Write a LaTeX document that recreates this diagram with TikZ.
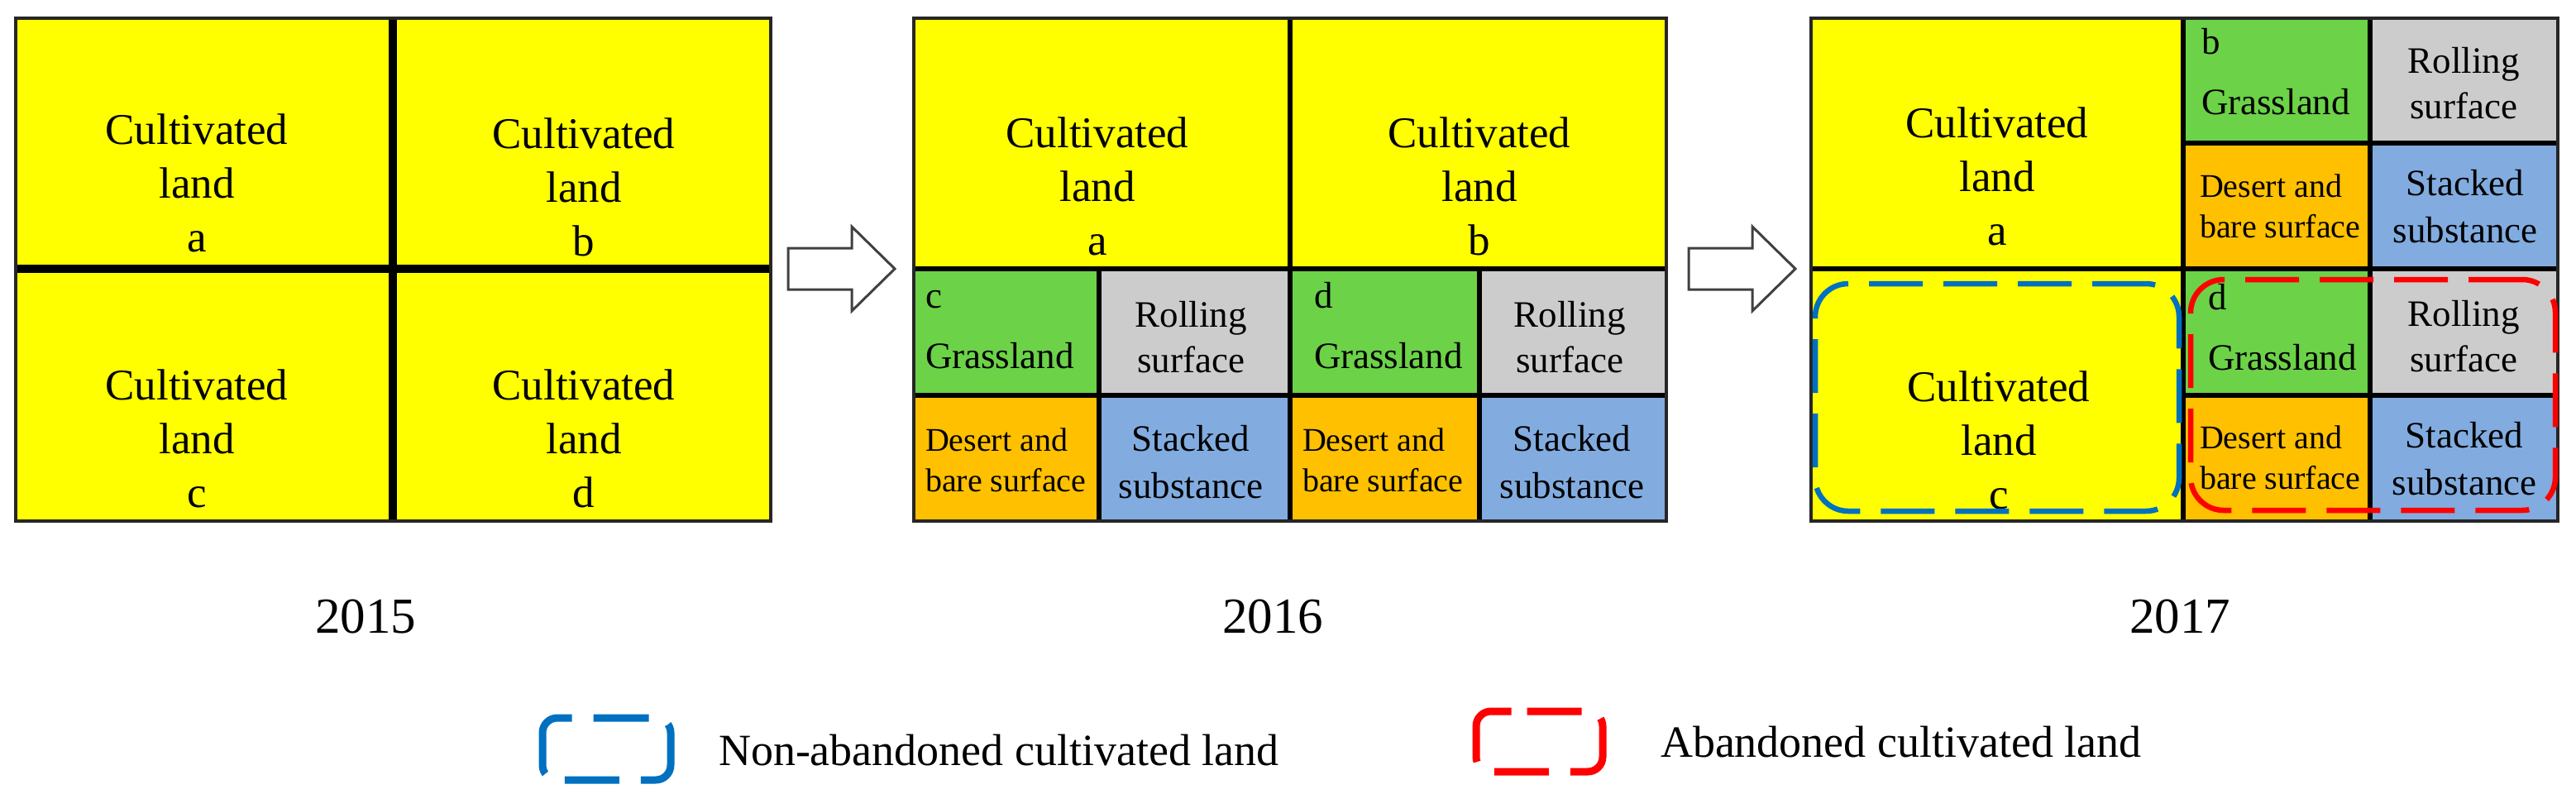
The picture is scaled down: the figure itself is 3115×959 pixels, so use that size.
\documentclass[tikz,border=0pt]{standalone}
\usepackage{fontspec}
\setmainfont{Liberation Serif}
\usetikzlibrary{fit}
\definecolor{cyel}{RGB}{255,255,0}
\definecolor{cgrn}{RGB}{108,210,72}
\definecolor{cgry}{RGB}{204,204,204}
\definecolor{corg}{RGB}{255,192,0}
\definecolor{cblu}{RGB}{130,172,224}
\definecolor{dblu}{RGB}{0,112,192}
\definecolor{dred}{RGB}{255,0,0}
\newcommand\fsCult{\fontsize{53}{65}\selectfont}
\newcommand\fsCell{\fontsize{45}{55}\selectfont}
\newcommand\fsGrass{\fontsize{45}{73}\selectfont}
\newcommand\fsDes{\fontsize{40}{49}\selectfont}
\newcommand\fsStack{\fontsize{45}{57}\selectfont}
\newcommand\fsYear{\fontsize{61}{70}\selectfont}
\newcommand\fsLeg{\fontsize{54}{60}\selectfont}
\tikzset{
  cellbox/.style={inner sep=0pt, outer sep=0pt, draw=none},
  divA/.style={line width=10pt, black},
  divB/.style={line width=6pt, black},
  outerbox/.style={line width=4pt, draw=black!85},
  lbl/.style={inner sep=0pt, outer sep=0pt, align=center, anchor=base},
  lbll/.style={inner sep=0pt, outer sep=0pt, align=left, anchor=base west},
  arrowshape/.style={draw=black!75, fill=white, line width=3pt, line join=miter},
  bigdash/.style={inner sep=0pt, line width=6.5pt, rounded corners=40pt, dash pattern=on 65pt off 25pt},
  legicon/.style={line width=9pt, rounded corners=18pt, dash pattern=on 66pt off 26pt on 96pt off 26pt}
}
\begin{document}
\begin{tikzpicture}[x=1pt,y=-1pt]
\useasboundingbox (0,0) rectangle (3115,959);
% ---------- Panel 2015 ----------
\node[cellbox, fill=cyel, fit={(19,22)(475,325)}] (p1a) {};
\node[cellbox, fill=cyel, fit={(475,22)(932,325)}] (p1b) {};
\node[cellbox, fill=cyel, fit={(19,325)(475,630)}] (p1c) {};
\node[cellbox, fill=cyel, fit={(475,325)(932,630)}] (p1d) {};
\draw[divA] (p1a.north east) -- (p1c.south east);
\draw[divA] (p1a.south west) -- (p1b.south east);
\draw[outerbox] (p1a.north west) rectangle (p1d.south east);
\node[lbl, font=\fsCult] (t1a) at (238,304) {Cultivated\\land\\a};
\node[lbl, font=\fsCult] (t1b) at (706,309) {Cultivated\\land\\b};
\node[lbl, font=\fsCult] (t1c) at (238,613) {Cultivated\\land\\c};
\node[lbl, font=\fsCult] (t1d) at (706,613) {Cultivated\\land\\d};
% ---------- Panel 2016 ----------
\node[cellbox, fill=cyel, fit={(1105,22)(1560,325)}] (p2a) {};
\node[cellbox, fill=cyel, fit={(1560,22)(2015,325)}] (p2b) {};
\node[cellbox, fill=cgrn, fit={(1105,325)(1329,478)}] (p2cg) {};
\node[cellbox, fill=cgry, fit={(1329,325)(1560,478)}] (p2cr) {};
\node[cellbox, fill=corg, fit={(1105,478)(1329,630)}] (p2cd) {};
\node[cellbox, fill=cblu, fit={(1329,478)(1560,630)}] (p2cs) {};
\node[cellbox, fill=cgrn, fit={(1560,325)(1789,478)}] (p2dg) {};
\node[cellbox, fill=cgry, fit={(1789,325)(2015,478)}] (p2dr) {};
\node[cellbox, fill=corg, fit={(1560,478)(1789,630)}] (p2dd) {};
\node[cellbox, fill=cblu, fit={(1789,478)(2015,630)}] (p2ds) {};
\draw[divB] (p2cg.north east) -- (p2cd.south east);
\draw[divB] (p2dg.north east) -- (p2dd.south east);
\draw[divB] (p2cg.south west) -- (p2dr.south east);
\draw[divB] (p2a.south west) -- (p2b.south east);
\draw[divB] (p2a.north east) -- (p2dd.south west);
\draw[outerbox] (p2a.north west) rectangle (p2ds.south east);
\node[lbl, font=\fsCult] (t2a) at (1327,308) {Cultivated\\land\\a};
\node[lbl, font=\fsCult] (t2b) at (1789,308) {Cultivated\\land\\b};
\node[lbll, font=\fsGrass] (t2cg) at (1119,445) {c\\Grassland};
\node[lbl, font=\fsCell] (t2cr) at (1440,450) {Rolling\\surface};
\node[lbll, font=\fsDes] (t2cd) at (1119,594) {Desert and\\bare surface};
\node[lbl, font=\fsStack] (t2cs) at (1440,602) {Stacked\\substance};
\node[lbll, font=\fsGrass] (t2dg) at (1589,445) {d\\Grassland};
\node[lbl, font=\fsCell] (t2dr) at (1898,450) {Rolling\\surface};
\node[lbll, font=\fsDes] (t2dd) at (1575,594) {Desert and\\bare surface};
\node[lbl, font=\fsStack] (t2ds) at (1901,602) {Stacked\\substance};
% ---------- Panel 2017 ----------
\node[cellbox, fill=cyel, fit={(2190,22)(2640,325)}] (p3a) {};
\node[cellbox, fill=cyel, fit={(2190,325)(2640,630)}] (p3c) {};
\node[cellbox, fill=cgrn, fit={(2640,22)(2866,173)}] (p3bg) {};
\node[cellbox, fill=cgry, fit={(2866,22)(3093,173)}] (p3br) {};
\node[cellbox, fill=corg, fit={(2640,173)(2866,325)}] (p3bd) {};
\node[cellbox, fill=cblu, fit={(2866,173)(3093,325)}] (p3bs) {};
\node[cellbox, fill=cgrn, fit={(2640,325)(2866,478)}] (p3dg) {};
\node[cellbox, fill=cgry, fit={(2866,325)(3093,478)}] (p3dr) {};
\node[cellbox, fill=corg, fit={(2640,478)(2866,630)}] (p3dd) {};
\node[cellbox, fill=cblu, fit={(2866,478)(3093,630)}] (p3ds) {};
\draw[divB] (p3bg.north east) -- (p3dd.south east);
\draw[divB] (p3bg.south west) -- (p3br.south east);
\draw[divB] (p3dg.south west) -- (p3dr.south east);
\draw[divB] (p3a.south west) -- (p3bs.south east);
\draw[divB] (p3a.north east) -- (p3c.south east);
\draw[outerbox] (p3a.north west) rectangle (p3ds.south east);
\node[lbl, font=\fsCult] (t3a) at (2415,296) {Cultivated\\land\\a};
\node[lbl, font=\fsCult] (t3c) at (2417,615) {Cultivated\\land\\c};
\node[lbll, font=\fsGrass] (t3bg) at (2662,138) {b\\Grassland};
\node[lbl, font=\fsCell] (t3br) at (2979,143) {Rolling\\surface};
\node[lbll, font=\fsDes] (t3bd) at (2660,287) {Desert and\\bare surface};
\node[lbl, font=\fsStack] (t3bs) at (2981,293) {Stacked\\substance};
\node[lbll, font=\fsGrass] (t3dg) at (2670,447) {d\\Grassland};
\node[lbl, font=\fsCell] (t3dr) at (2979,449) {Rolling\\surface};
\node[lbll, font=\fsDes] (t3dd) at (2660,591) {Desert and\\bare surface};
\node[lbl, font=\fsStack] (t3ds) at (2980,598) {Stacked\\substance};
% dashed outlines
\node[bigdash, draw=dblu, fit={(2195,343)(2635,618)}] (nonab) {};
\node[bigdash, draw=dred, fit={(2649,338)(3090,617)}] (aban) {};
% ---------- arrows ----------
\coordinate (a1) at (953,325);
\coordinate (a2) at (2042,325);
\draw[arrowshape] (a1) ++(0,-25) -- ++(77,0) -- ++(0,-26) -- ++(52,51) -- ++(-52,51) -- ++(0,-26) -- ++(-77,0) -- cycle;
\draw[arrowshape] (a2) ++(0,-25) -- ++(77,0) -- ++(0,-26) -- ++(52,51) -- ++(-52,51) -- ++(0,-26) -- ++(-77,0) -- cycle;
% ---------- years ----------
\node[lbl, font=\fsYear] (y15) at (442,765) {2015};
\node[lbl, font=\fsYear] (y16) at (1539,765) {2016};
\node[lbl, font=\fsYear] (y17) at (2636,765) {2017};
% ---------- legend ----------
\draw[legicon, draw=dblu] (700.5,868) -- (811,868) -- (811,943) -- (656,943) -- (656,868) -- cycle;
\node[lbll, font=\fsLeg] (legbt) at (869,925) {Non-abandoned cultivated land};
\draw[legicon, draw=dred] (1828.5,860) -- (1938,860) -- (1938,933) -- (1785,933) -- (1785,860) -- cycle;
\node[lbll, font=\fsLeg] (legrt) at (2008,915) {Abandoned cultivated land};
\end{tikzpicture}
\end{document}
